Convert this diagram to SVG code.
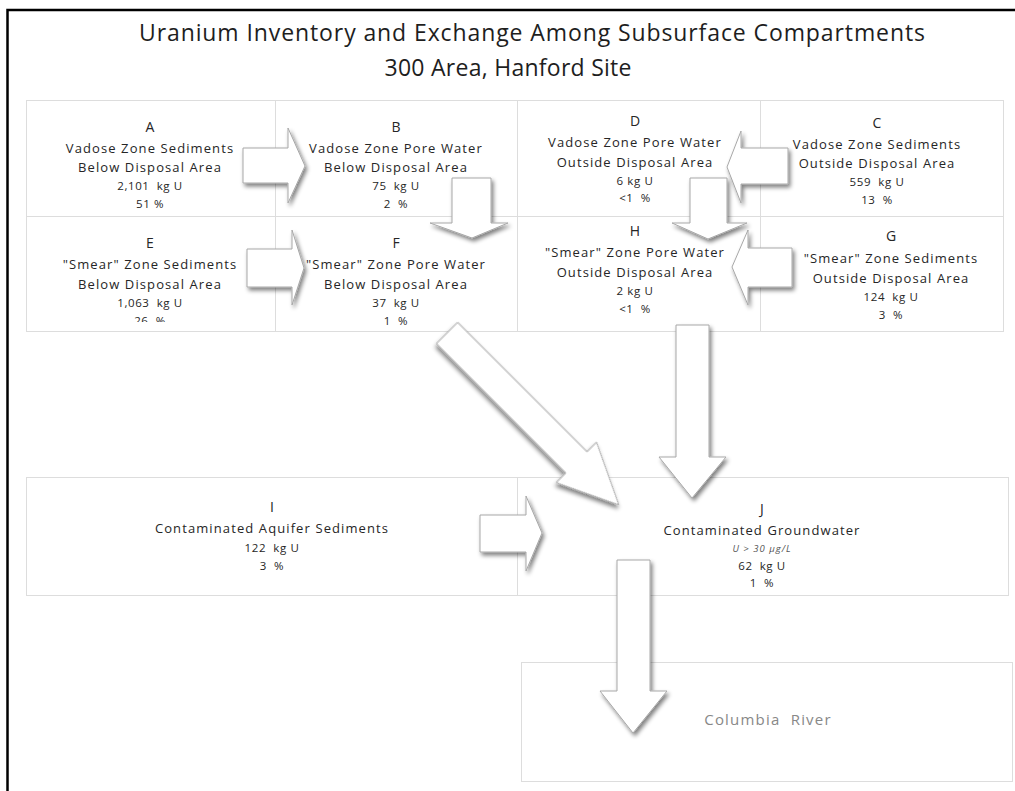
<svg xmlns="http://www.w3.org/2000/svg" width="1015" height="791" viewBox="0 0 1015 791">
<style>
.frame{stroke:#000;stroke-width:2.5;fill:none}
.grid{stroke:#ddd;stroke-width:1;fill:none}
.t{font-family:"Open Sans","Noto Sans","Liberation Sans",sans-serif;fill:#262626;text-anchor:middle;white-space:pre}
.title{font-size:23px;fill:#1e1e1e}
.ltr{font-size:14px}
.nm{font-size:13px;letter-spacing:1.1px}
.num{font-size:11.5px;letter-spacing:0.6px}
.sub{font-size:9.5px;font-style:italic;letter-spacing:1px;fill:#555}
.river{font-size:15px;letter-spacing:1.2px;fill:#888}
.arr{fill:#fff;stroke:#a8a8a8;stroke-width:1;filter:url(#sh)}
</style>
<defs>
<filter id="sh" x="-20%" y="-20%" width="150%" height="150%">
<feGaussianBlur in="SourceAlpha" stdDeviation="2.2"/>
<feOffset dx="2" dy="3" result="b"/>
<feComponentTransfer><feFuncA type="linear" slope="0.5"/></feComponentTransfer>
<feMerge><feMergeNode/><feMergeNode in="SourceGraphic"/></feMerge>
</filter>
<clipPath id="clipE"><rect x="26" y="216" width="249" height="106"/></clipPath>
</defs>
<rect width="1015" height="791" fill="#fff"/>
<path class="frame" d="M7.5,791 V10 H1015"/>
<g id="title">
<text class="t title" x="532" y="41" textLength="786" lengthAdjust="spacing">Uranium Inventory and Exchange Among Subsurface Compartments</text>
<text class="t title" x="508" y="76" textLength="247" lengthAdjust="spacing">300 Area, Hanford Site</text>
</g>
<g id="grid">
<rect class="grid" x="26.5" y="100.5" width="977" height="231"/>
<path class="grid" d="M26,216.5 H1003 M275.5,100 V332 M517.5,100 V332 M760.5,100 V332"/>
</g>
<g id="nodeA">
<text class="t ltr" x="150" y="132">A</text>
<text class="t nm" x="150" y="153">Vadose Zone Sediments</text>
<text class="t nm" x="150" y="172">Below Disposal Area</text>
<text class="t num" x="150" y="190">2,101  kg U</text>
<text class="t num" x="150" y="208">51 %</text>
</g>
<g id="nodeB">
<text class="t ltr" x="396" y="132">B</text>
<text class="t nm" x="396" y="153">Vadose Zone Pore Water</text>
<text class="t nm" x="396" y="172">Below Disposal Area</text>
<text class="t num" x="396" y="190">75  kg U</text>
<text class="t num" x="396" y="208">2  %</text>
</g>
<g id="nodeD">
<text class="t ltr" x="635" y="126">D</text>
<text class="t nm" x="635" y="147">Vadose Zone Pore Water</text>
<text class="t nm" x="635" y="167">Outside Disposal Area</text>
<text class="t num" x="635" y="185">6 kg U</text>
<text class="t num" x="635" y="202">&lt;1  %</text>
</g>
<g id="nodeC">
<text class="t ltr" x="877" y="128">C</text>
<text class="t nm" x="877" y="149">Vadose Zone Sediments</text>
<text class="t nm" x="877" y="168">Outside Disposal Area</text>
<text class="t num" x="877" y="186">559  kg U</text>
<text class="t num" x="877" y="204">13  %</text>
</g>
<g id="nodeE">
<text class="t ltr" x="150" y="248">E</text>
<text class="t nm" x="150" y="269">"Smear" Zone Sediments</text>
<text class="t nm" x="150" y="289">Below Disposal Area</text>
<text class="t num" x="150" y="307">1,063  kg U</text>
<text class="t num" x="150" y="325" clip-path="url(#clipE)">26  %</text>
</g>
<g id="nodeF">
<text class="t ltr" x="396" y="248">F</text>
<text class="t nm" x="396" y="269">"Smear" Zone Pore Water</text>
<text class="t nm" x="396" y="289">Below Disposal Area</text>
<text class="t num" x="396" y="307">37  kg U</text>
<text class="t num" x="396" y="325">1  %</text>
</g>
<g id="nodeH">
<text class="t ltr" x="635" y="236">H</text>
<text class="t nm" x="635" y="257">"Smear" Zone Pore Water</text>
<text class="t nm" x="635" y="277">Outside Disposal Area</text>
<text class="t num" x="635" y="295">2 kg U</text>
<text class="t num" x="635" y="313">&lt;1  %</text>
</g>
<g id="nodeG">
<text class="t ltr" x="891" y="241">G</text>
<text class="t nm" x="891" y="263">"Smear" Zone Sediments</text>
<text class="t nm" x="891" y="283">Outside Disposal Area</text>
<text class="t num" x="891" y="301">124  kg U</text>
<text class="t num" x="891" y="319">3  %</text>
</g>
<g id="nodeI">
<rect class="grid" x="26.5" y="477.5" width="491" height="118"/>
<text class="t ltr" x="272" y="512">I</text>
<text class="t nm" x="272" y="533">Contaminated Aquifer Sediments</text>
<text class="t num" x="272" y="552">122  kg U</text>
<text class="t num" x="272" y="570">3  %</text>
</g>
<g id="nodeJ">
<rect class="grid" x="517.5" y="477.5" width="491" height="118"/>
<text class="t ltr" x="762" y="514">J</text>
<text class="t nm" x="762" y="535">Contaminated Groundwater</text>
<text class="t sub" x="762" y="552">U &gt; 30 μg/L</text>
<text class="t num" x="762" y="570">62  kg U</text>
<text class="t num" x="762" y="587">1  %</text>
</g>
<g id="nodeRiver">
<rect class="grid" x="521.5" y="662.5" width="491" height="119"/>
<text class="t river" x="768" y="725">Columbia  River</text>
</g>
<g id="connectors">
<path class="arr" d="M243,148 H288 V128 L305,166 L288,203 V183 H243 Z"/>
<path class="arr" d="M247,249 H292 V230 L304,268 L292,305 V287 H247 Z"/>
<path class="arr" d="M452,178 H491 V223 H508 L472,238 L430,223 H452 Z"/>
<path class="arr" d="M788,148 H741 V131 L727,167 L741,203 V184 H788 Z"/>
<path class="arr" d="M792,248 H748 V230 L732,267 L748,305 V287 H792 Z"/>
<path class="arr" d="M690,178 H727 V223 H747 L708,239 L672,223 H690 Z"/>
<path class="arr" d="M676,325 H709 V457 H726 L692,498 L659,457 H676 Z"/>
<path class="arr" transform="translate(447,333) rotate(45)" d="M0,-15 H183 V-28.5 L243,0 L183,28.5 V15 H0 Z"/>
<path class="arr" d="M480,515 H526 V496 L542,533 L526,571 V552 H480 Z"/>
<path class="arr" d="M617,560 H650 V691 H667 L633,733 L600,691 H617 Z"/>
</g>
</svg>
